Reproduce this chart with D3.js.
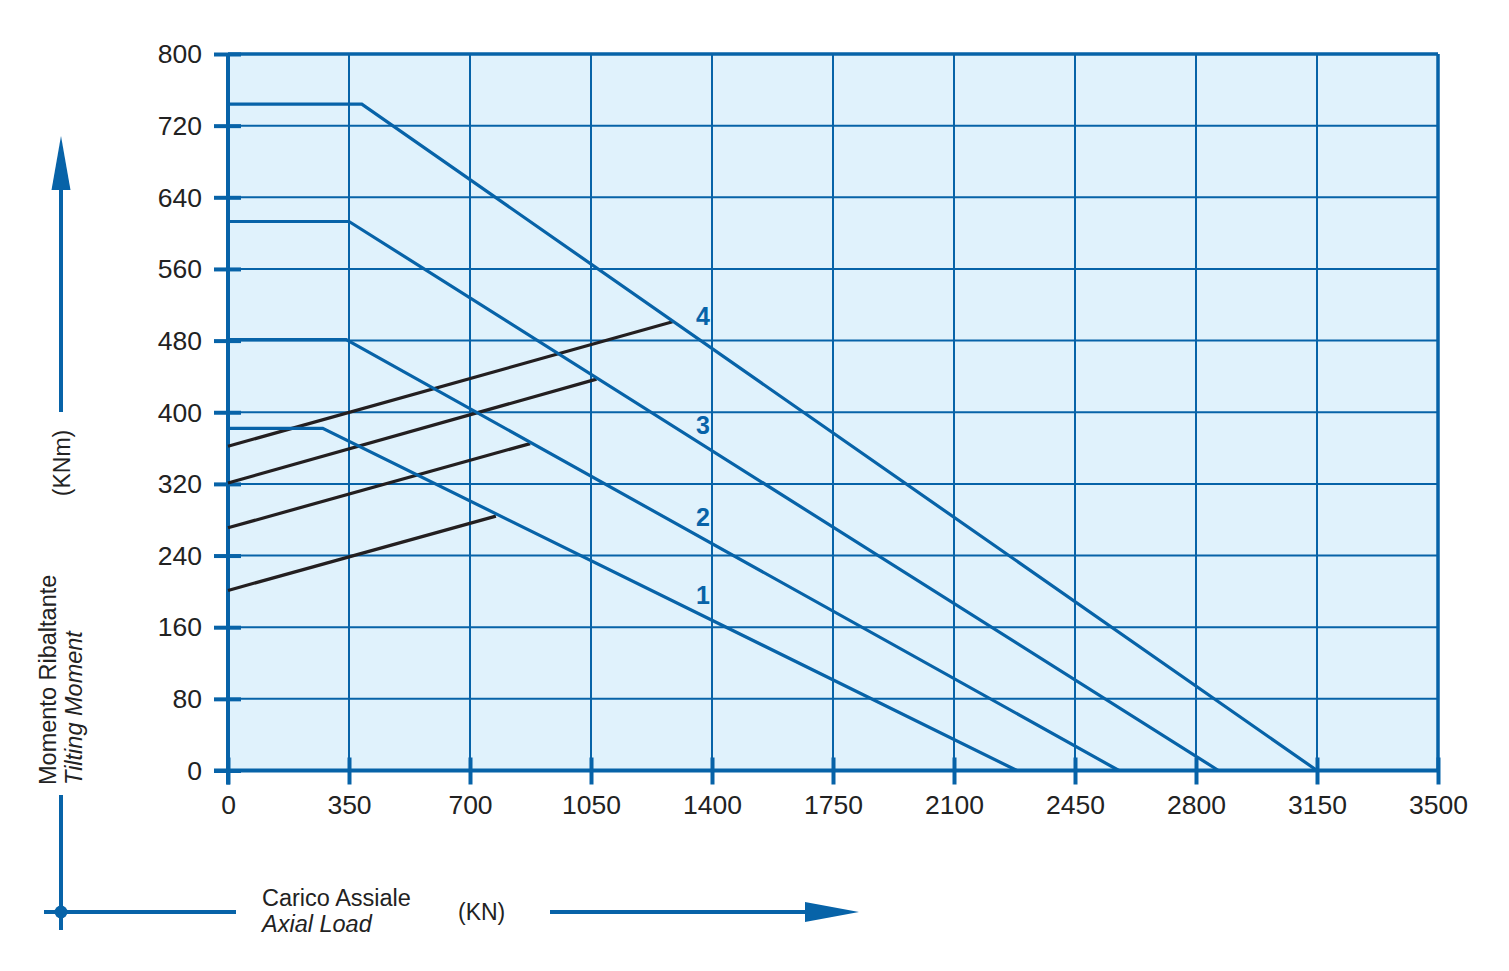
<!DOCTYPE html>
<html><head><meta charset="utf-8">
<script src="https://cdn.jsdelivr.net/npm/d3@7"></script>
<style>
html,body{margin:0;padding:0;background:#fff;}
text{font-family:"Liberation Sans",Arial,sans-serif;}
</style></head>
<body>
<svg id="chart" width="1509" height="971"></svg>
<script>
// ---- data ----
const xTicks = [0,350,700,1050,1400,1750,2100,2450,2800,3150,3500];
const yTicks = [0,80,160,240,320,400,480,560,640,720,800];
const curve1 = [[0,382],[274,382],[2282,0]];
const curve2 = [[0,481],[342,481],[2577,0]];
const curve3 = [[0,613],[350,613],[2865,0]];
const curve4 = [[0,744],[387,744],[3150,0]];
const boltLineA = [[0,201],[775,284]];
const boltLineB = [[0,271],[874,365]];
const boltLineC = [[0,321],[1066,437]];
const boltLineD = [[0,362],[1286,501]];
const curveLabels = ["1","2","3","4"];
const curveLabelPos = [[1374,196],[1374,283],[1374,386],[1374,507]];
const yTitle = ["Momento Ribaltante","Tilting Moment"];
const yUnit = "(KNm)";
const xTitle = ["Carico Assiale","Axial Load"];
const xUnit = "(KN)";

// ---- layout ----
const BLUE = "#0763a8";
const svg = d3.select("#chart");
const x = d3.scaleLinear().domain([0,3500]).range([228,1438]);
const y = d3.scaleLinear().domain([0,800]).range([770.5,54]);
const FONT = "Liberation Sans, Arial, sans-serif";

// background
svg.append("rect").attr("x",x(0)).attr("y",y(800)).attr("width",x(3500)-x(0)).attr("height",y(0)-y(800)).attr("fill","#e0f2fc");

// grid
svg.append("g").selectAll("line").data(xTicks).join("line")
  .attr("x1",d=>x(d)).attr("x2",d=>x(d)).attr("y1",y(800)).attr("y2",y(0))
  .attr("stroke",BLUE).attr("stroke-width",2);
svg.append("g").selectAll("line").data(yTicks).join("line")
  .attr("x1",x(0)).attr("x2",x(3500)).attr("y1",d=>y(d)).attr("y2",d=>y(d))
  .attr("stroke",BLUE).attr("stroke-width",2);
// border top/right
svg.append("line").attr("x1",x(0)).attr("x2",x(3500)).attr("y1",y(800)).attr("y2",y(800)).attr("stroke",BLUE).attr("stroke-width",3.5);
svg.append("line").attr("x1",x(3500)).attr("x2",x(3500)).attr("y1",y(800)).attr("y2",y(0)).attr("stroke",BLUE).attr("stroke-width",3.5);

// axes using d3 axis
const yAxis = svg.append("g").attr("transform",`translate(${x(0)},0)`)
  .call(d3.axisLeft(y).tickValues(yTicks).tickFormat(d3.format("d")).tickSize(0).tickPadding(26));
yAxis.attr("font-size",null).attr("font-family",null);
yAxis.select(".domain").remove();
yAxis.selectAll("text").attr("font-size",26.5).attr("fill","#222").attr("font-family",FONT).attr("dy","0.33em");
yAxis.selectAll(".tick").append("line").attr("x1",-14).attr("x2",13).attr("stroke",BLUE).attr("stroke-width",4);

const xAxis = svg.append("g").attr("transform",`translate(0,${y(0)})`)
  .call(d3.axisBottom(x).tickValues(xTicks).tickFormat(d3.format("d")).tickSize(0).tickPadding(25));
xAxis.attr("font-size",null).attr("font-family",null);
xAxis.select(".domain").remove();
xAxis.selectAll("text").attr("font-size",26.5).attr("fill","#222").attr("font-family",FONT);
xAxis.selectAll(".tick").append("line").attr("y1",-13).attr("y2",14).attr("stroke",BLUE).attr("stroke-width",4);

// main axis lines
svg.append("line").attr("x1",x(0)-14).attr("x2",x(3500)).attr("y1",y(0)).attr("y2",y(0)).attr("stroke",BLUE).attr("stroke-width",4);
svg.append("line").attr("x1",x(0)).attr("x2",x(0)).attr("y1",y(800)-1).attr("y2",y(0)+14).attr("stroke",BLUE).attr("stroke-width",4);

// curves
const line = d3.line().x(d=>x(d[0])).y(d=>y(d[1]));
svg.append("g").selectAll("path").data([boltLineA,boltLineB,boltLineC,boltLineD]).join("path")
  .attr("d",line).attr("fill","none").attr("stroke","#231f20").attr("stroke-width",3.2);
svg.append("g").selectAll("path").data([curve1,curve2,curve3,curve4]).join("path")
  .attr("d",line).attr("fill","none").attr("stroke",BLUE).attr("stroke-width",3.2);

svg.append("g").selectAll("text").data(curveLabels).join("text")
  .attr("x",(d,i)=>x(curveLabelPos[i][0])).attr("y",(d,i)=>y(curveLabelPos[i][1]))
  .attr("text-anchor","middle").attr("dy","0.36em")
  .attr("font-size",25).attr("font-weight","bold").attr("fill",BLUE).text(d=>d);

// y title
const yt = svg.append("text").attr("transform","translate(56,785) rotate(-90)").attr("font-size",23.5).attr("fill","#222");
yt.append("tspan").attr("x",0).attr("y",0).text(yTitle[0]);
yt.append("tspan").attr("x",0).attr("y",26).attr("font-style","italic").text(yTitle[1]);
svg.append("text").attr("transform","translate(62,463) rotate(-90)").attr("text-anchor","middle")
  .attr("dy","0.36em").attr("font-size",23).attr("fill","#222").text(yUnit);

// top arrow
svg.append("line").attr("x1",61).attr("x2",61).attr("y1",412).attr("y2",185).attr("stroke",BLUE).attr("stroke-width",4);
svg.append("path").attr("d","M61,136 L70.5,190 L51.5,190 Z").attr("fill",BLUE);

// bottom-left cross
svg.append("line").attr("x1",61).attr("x2",61).attr("y1",795).attr("y2",930).attr("stroke",BLUE).attr("stroke-width",4);
svg.append("line").attr("x1",44).attr("x2",236).attr("y1",912).attr("y2",912).attr("stroke",BLUE).attr("stroke-width",4);
svg.append("circle").attr("cx",61).attr("cy",912).attr("r",6.5).attr("fill",BLUE);

// x title
const xt = svg.append("text").attr("font-size",23.5).attr("fill","#222");
xt.append("tspan").attr("x",262).attr("y",906).text(xTitle[0]);
xt.append("tspan").attr("x",262).attr("y",932).attr("font-style","italic").text(xTitle[1]);
svg.append("text").attr("x",458).attr("y",912).attr("dy","0.36em").attr("font-size",23).attr("fill","#222").text(xUnit);

// right arrow
svg.append("line").attr("x1",550).attr("x2",810).attr("y1",912).attr("y2",912).attr("stroke",BLUE).attr("stroke-width",4);
svg.append("path").attr("d","M859,912 L805,902 L805,922 Z").attr("fill",BLUE);
</script>
</body></html>
